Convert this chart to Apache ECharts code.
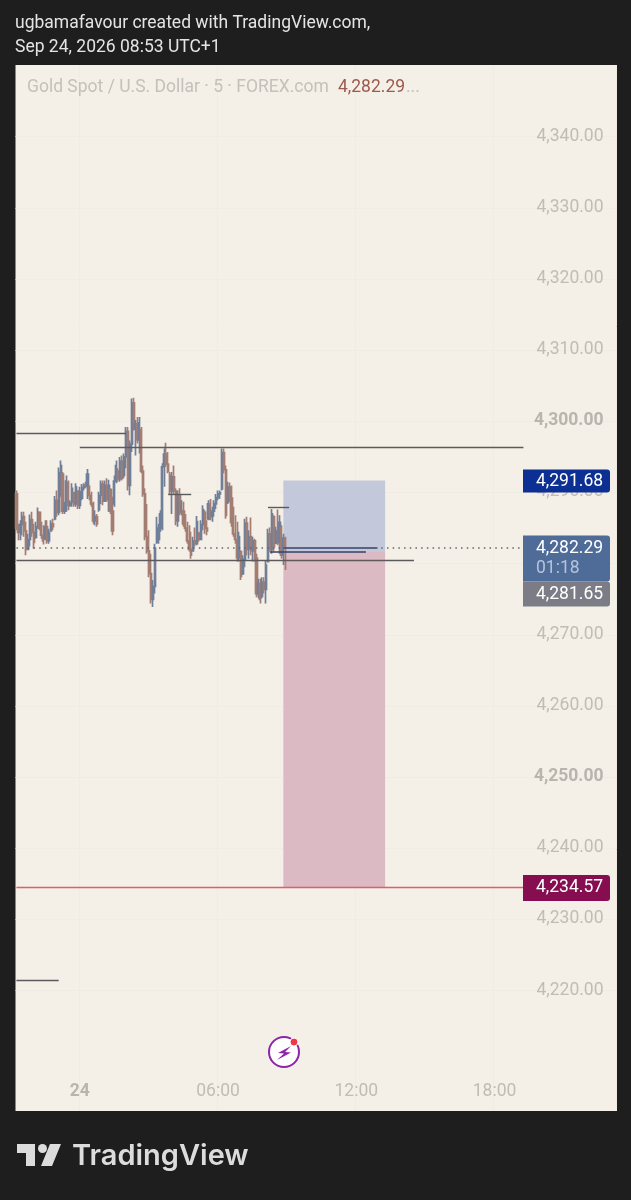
<!DOCTYPE html>
<html>
<head>
<meta charset="utf-8">
<style>
    html, body { margin: 0; padding: 0; background: #1e1e1e; }
    #chart { width: 631px; height: 1200px; }
</style>
<script src="https://cdn.jsdelivr.net/npm/echarts@6/dist/echarts.min.js"></script>
</head>
<body>
<div id="chart"></div>
<script>
// 5 minute bars, first one at 21:15 the day before
const opens = [
    4289.8,4285.0,4284.4,4285.5,4286.6,4284.6,4282.0,4283.4,4286.2,4284.4,
    4283.7,4285.2,4287.2,4285.0,4284.0,4283.5,4285.2,4283.2,4284.6,4285.6,
    4286.3,4288.9,4287.2,4292.8,4292.6,4287.4,4287.8,4291.4,4288.2,4288.6,
    4290.0,4288.4,4290.2,4288.2,4289.2,4290.7,4291.0,4290.9,4290.8,4289.6,
    4288.4,4286.0,4286.6,4287.6,4289.6,4291.2,4288.8,4291.0,4289.0,4290.4,
    4287.4,4288.4,4291.6,4293.0,4291.9,4294.4,4292.4,4295.0,4298.6,4291.0,
    4296.8,4302.6,4298.9,4299.6,4297.4,4298.8,4293.0,4289.8,4283.8,4281.8,
    4278.6,4275.0,4276.8,4283.0,4283.4,4285.0,4287.0,4293.6,4295.4,4294.0,
    4292.4,4290.2,4292.2,4290.2,4286.0,4289.6,4287.2,4287.4,4285.6,4285.0,
    4283.2,4282.0,4281.8,4283.2,4282.8,4284.3,4283.4,4285.5,4287.2,4285.0,
    4286.3,4288.4,4286.6,4287.4,4288.4,4289.3,4289.8,4290.5,4295.6,4293.2,
    4288.6,4290.8,4289.2,4285.8,4284.2,4283.4,4280.8,4281.7,4278.6,4280.6,
    4285.7,4282.0,4283.8,4281.8,4283.2,4280.8,4275.8,4277.2,4275.4,4277.4,
    4276.4,4280.3,4284.2,4282.0,4286.6,4282.9,4284.6,4283.0,4285.0,4281.2,
    4283.6,
]
const highs = [
    4290.3,4285.6,4286.1,4287.3,4287.3,4285.9,4284.2,4286.9,4287.3,4285.6,
    4285.9,4287.9,4287.3,4285.9,4285.4,4286.1,4286.1,4284.9,4286.1,4286.3,
    4289.5,4290.3,4293.5,4294.5,4292.9,4288.7,4292.4,4291.7,4288.9,4291.3,
    4290.1,4291.3,4290.3,4290.8,4291.2,4291.3,4291.5,4293.3,4291.0,4290.1,
    4288.7,4287.5,4287.0,4290.1,4291.7,4291.7,4291.7,4292.0,4291.8,4290.6,
    4289.4,4292.4,4294.5,4293.4,4295.0,4295.2,4295.5,4299.2,4299.2,4297.3,
    4303.2,4303.3,4300.2,4300.6,4300.6,4299.2,4293.8,4290.6,4288.4,4284.7,
    4281.4,4277.7,4282.8,4286.6,4285.6,4287.5,4294.1,4296.2,4297.0,4295.7,
    4292.9,4292.9,4293.8,4290.6,4290.3,4290.6,4288.9,4288.7,4287.0,4285.9,
    4285.4,4284.5,4283.8,4285.1,4286.7,4284.5,4286.1,4288.2,4287.5,4286.1,
    4288.9,4289.1,4288.0,4288.9,4289.8,4290.3,4290.3,4296.2,4296.2,4293.8,
    4291.5,4291.4,4291.0,4288.0,4286.8,4285.9,4284.5,4281.9,4281.2,4286.3,
    4286.6,4284.7,4286.5,4283.8,4283.5,4281.4,4277.9,4277.9,4278.1,4278.1,
    4280.5,4284.9,4285.1,4287.7,4286.8,4285.2,4287.6,4286.8,4285.4,4284.2,
    4283.8,
]
const lows = [
    4284.7,4283.3,4283.3,4284.0,4283.8,4281.2,4281.9,4282.4,4283.8,4282.1,
    4283.5,4284.9,4284.7,4283.5,4282.7,4283.3,4282.8,4282.8,4284.5,4284.7,
    4286.1,4286.6,4286.8,4289.4,4287.0,4287.0,4287.3,4287.5,4288.0,4288.0,
    4288.0,4288.0,4287.7,4287.7,4288.9,4290.3,4290.6,4289.1,4288.9,4288.0,
    4285.6,4285.4,4285.2,4287.3,4288.4,4288.2,4288.7,4288.7,4287.3,4287.0,
    4284.0,4288.0,4291.3,4291.5,4291.5,4291.7,4292.0,4293.4,4290.3,4289.6,
    4295.7,4298.7,4295.2,4296.9,4295.5,4292.7,4289.4,4283.3,4281.4,4278.1,
    4274.4,4273.9,4275.8,4282.8,4282.8,4284.5,4284.7,4290.8,4293.6,4292.7,
    4289.8,4287.0,4289.8,4285.4,4285.2,4286.8,4286.8,4285.2,4284.5,4282.8,
    4281.7,4280.7,4281.7,4282.4,4282.6,4283.1,4283.5,4284.7,4284.2,4284.0,
    4286.1,4286.1,4285.9,4286.6,4287.7,4288.9,4289.1,4290.3,4292.7,4286.3,
    4288.4,4288.7,4285.2,4283.8,4282.8,4280.3,4280.3,4277.7,4278.4,4279.5,
    4281.2,4280.7,4281.2,4280.3,4280.3,4275.3,4275.1,4274.4,4275.1,4275.8,
    4274.4,4280.3,4281.7,4281.4,4281.7,4282.8,4282.6,4281.4,4280.7,4279.8,
    4279.1,
]
const closes = [
    4285.0,4284.4,4285.5,4286.6,4284.6,4282.0,4283.4,4286.2,4284.4,4283.0,
    4285.2,4287.2,4285.0,4284.0,4283.2,4285.2,4283.2,4284.4,4285.6,4285.2,
    4288.9,4287.2,4292.8,4293.8,4287.4,4287.8,4291.6,4288.2,4288.6,4290.6,
    4288.4,4290.8,4288.2,4290.1,4290.7,4291.0,4290.9,4292.6,4289.6,4288.4,
    4286.0,4286.6,4285.6,4289.6,4291.2,4288.8,4291.0,4289.0,4291.0,4287.4,
    4284.6,4291.6,4293.8,4291.9,4294.4,4292.0,4295.0,4298.6,4291.0,4296.8,
    4302.6,4298.9,4299.6,4297.4,4299.8,4293.0,4289.8,4283.8,4281.8,4278.6,
    4275.0,4276.8,4282.2,4283.4,4285.0,4287.0,4293.6,4295.4,4294.0,4293.0,
    4290.2,4292.2,4290.2,4286.0,4289.6,4287.2,4287.4,4285.6,4285.0,4283.2,
    4282.0,4281.2,4283.2,4282.8,4285.9,4283.4,4285.5,4287.6,4285.0,4284.6,
    4288.4,4286.6,4287.4,4288.4,4289.3,4289.8,4290.0,4295.6,4293.2,4286.8,
    4290.8,4289.2,4285.8,4284.2,4283.4,4280.8,4283.8,4278.2,4280.6,4285.7,
    4282.0,4283.8,4281.8,4283.2,4280.8,4275.8,4277.2,4275.0,4277.4,4276.4,
    4279.8,4284.2,4282.0,4287.0,4282.4,4284.6,4283.0,4285.8,4281.2,4283.6,
    4282.29,
]

const priceTicks = [4340, 4330, 4320, 4310, 4300, 4290, 4280, 4270, 4260, 4250, 4240, 4230, 4220]
const boldPriceTicks = [4300, 4250]
const timeTickSlots = [33, 105, 177, 249]
const timeTickLabels = ['24', '06:00', '12:00', '18:00']

// drawn levels: bar slot where they start, where they end, and the price
const levelStarts = [0, 33, 0, 0, 79, 131, 132, 139]
const levelEnds = [57, 264, 207, 22, 91, 142, 182, 188]
const levelPrices = [4298.3, 4296.33, 4280.45, 4221.44, 4289.8, 4288.0, 4281.65, 4282.29]

const lastPrice = 4282.29
const targetPrice = 4291.68
const entryPrice = 4281.65
const stopPrice = 4234.57
const boxStart = 139
const boxEnd = 192

const slotCount = 313
const slots = []
for (let i = 0; i < slotCount; i++) {
    slots.push('bar' + i)
}

const chart = echarts.init(document.getElementById('chart'))

const darkLevel = { color: '#5c5a5c', width: 1.4, type: 'solid' }
const navyLevel = { color: '#35426e', width: 1.6, type: 'solid' }

function levelLines() {
    return levelPrices.map((price, i) => [
        { coord: [levelStarts[i], price], lineStyle: i > 5 ? navyLevel : darkLevel },
        { coord: [levelEnds[i], price] },
    ])
}

function money(v) {
    return v.toLocaleString('en-US', { minimumFractionDigits: 2, maximumFractionDigits: 2 })
}

chart.setOption({
    animation: false,
    backgroundColor: '#1e1e1e',
    grid: {
        show: true,
        left: 15.5,
        top: 65,
        width: 601,
        height: 1046,
        backgroundColor: '#f4efe7',
        borderWidth: 0,
    },
    xAxis: {
        type: 'category',
        data: slots,
        boundaryGap: true,
        axisLine: { show: false },
        axisTick: { show: false },
        splitLine: {
            show: true,
            interval: (i) => timeTickSlots.includes(i),
            lineStyle: { color: '#f0ebe3' },
        },
        axisLabel: {
            inside: true,
            margin: 10,
            interval: (i) => timeTickSlots.includes(i),
            formatter: (v, i) => {
                const t = timeTickLabels[timeTickSlots.indexOf(i)]
                return t === '24' ? '{b|' + t + '}' : t
            },
            color: '#c0bcb6',
            fontFamily: 'Roboto',
            fontSize: 17.5,
            rich: { b: { fontFamily: 'Roboto', fontSize: 17.5, fontWeight: 'bold', color: '#b8b4ae' } },
        },
    },
    yAxis: {
        type: 'value',
        position: 'right',
        min: 4203.1,
        max: 4350.07,
        axisLine: { show: false },
        axisTick: { show: false, customValues: priceTicks },
        splitLine: { show: true, lineStyle: { color: '#f0ebe3' } },
        axisLabel: {
            inside: true,
            margin: 13,
            customValues: priceTicks,
            padding: [0, 0, 1, 0],
            formatter: (v) => (boldPriceTicks.includes(v) ? '{b|' + money(v) + '}' : money(v)),
            color: '#c0bcb6',
            fontFamily: 'Roboto',
            fontSize: 17.5,
            rich: { b: { fontFamily: 'Roboto', fontSize: 17.5, fontWeight: 'bold', color: '#b8b4ae' } },
        },
    },
    series: [
        {
            type: 'candlestick',
            barWidth: 1.6,
            itemStyle: {
                color: '#6f7f99',
                color0: '#a37d72',
                borderColor: '#6f7f99',
                borderColor0: '#a37d72',
                borderWidth: 1.7,
            },
            data: opens.map((o, i) => [o, closes[i], lows[i], highs[i]]),
            markArea: {
                silent: true,
                data: [
                    [
                        { coord: [boxStart, targetPrice], itemStyle: { color: '#c3c8da' } },
                        { coord: [boxEnd, entryPrice] },
                    ],
                    [
                        { coord: [boxStart, entryPrice], itemStyle: { color: '#dcbac3' } },
                        { coord: [boxEnd, stopPrice] },
                    ],
                ],
            },
            markLine: {
                silent: true,
                symbol: 'none',
                label: { show: false },
                lineStyle: { type: 'solid' },
                data: levelLines().concat([
                    [
                        { coord: [0, stopPrice], lineStyle: { color: '#dc5f6c', width: 1.4, type: 'solid' } },
                        { coord: [264, stopPrice] },
                    ],
                    [
                        { coord: [0, lastPrice], lineStyle: { color: '#5f6673', width: 1.5, type: [1.5, 4.2] } },
                        { coord: [264, lastPrice] },
                    ],
                ]),
            },
        },
    ],
})

// price tags and the text around the pane
function priceY(v) {
    return chart.convertToPixel({ yAxisIndex: 0 }, v)
}

function tag(y, h, fill) {
    return { type: 'rect', shape: { x: 523, y: y, width: 87, height: h, r: [0, 3, 3, 0] }, style: { fill: fill }, z: 20 }
}

function tagText(text, y, fill) {
    return {
        type: 'text',
        z: 21,
        style: { text: text, x: 536, y: y, fill: fill || '#ffffff', font: '17.5px Roboto', verticalAlign: 'middle' },
    }
}

const lastY = priceY(lastPrice)

chart.setOption({
    graphic: [
        { type: 'text', style: { text: 'ugbamafavour created with TradingView.com,', x: 15, y: 24, fill: '#e4e4e4', font: '17.5px Roboto', verticalAlign: 'middle' } },
        { type: 'text', style: { text: 'Sep 24, 2026 08:53 UTC+1', x: 15, y: 48, fill: '#e4e4e4', font: '17.5px Roboto', verticalAlign: 'middle' } },
        { type: 'text', style: { text: 'Gold Spot / U.S. Dollar · 5 · FOREX.com', x: 27, y: 88, fill: '#c4c0ba', font: '17.5px Roboto', verticalAlign: 'middle' } },
        { type: 'text', style: { text: '4,282.29', x: 338, y: 88, fill: '#9c5a4c', font: '17.5px Roboto', verticalAlign: 'middle' } },
        { type: 'text', style: { text: '...', x: 406, y: 88, fill: '#c4c0ba', font: '17.5px Roboto', verticalAlign: 'middle' } },

        tag(priceY(targetPrice) - 11, 23, '#0c2f94'),
        tagText(money(targetPrice), priceY(targetPrice) + 1),
        tag(lastY - 12, 46, '#4f6c98'),
        tagText(money(lastPrice), lastY + 1),
        tagText('01:18', lastY + 21, '#b5c4dc'),
        tag(lastY + 34, 25, '#7c7c86'),
        tagText(money(entryPrice), lastY + 47),
        tag(priceY(stopPrice) - 12, 26, '#860e50'),
        tagText(money(stopPrice), priceY(stopPrice) + 1),

        // alert badge
        { type: 'circle', shape: { cx: 284, cy: 1052, r: 15 }, style: { fill: '#ffffff', stroke: '#8e24aa', lineWidth: 2 }, z: 20 },
        { type: 'polygon', shape: { points: [[291, 1046], [278, 1053], [284, 1053.5], [277, 1060], [291, 1052.5], [285, 1052]] }, style: { fill: '#8e24aa' }, z: 21 },
        { type: 'circle', shape: { cx: 294, cy: 1042, r: 4 }, style: { fill: '#f23645', stroke: '#ffffff', lineWidth: 1 }, z: 21 },

        // TradingView logo
        { type: 'polygon', shape: { points: [[17, 1144], [35, 1144], [35, 1166], [26, 1166], [26, 1153], [17, 1153]] }, style: { fill: '#dcdcdc' } },
        { type: 'circle', shape: { cx: 42.5, cy: 1148.5, r: 4.5 }, style: { fill: '#dcdcdc' } },
        { type: 'polygon', shape: { points: [[50, 1144], [61, 1144], [52, 1166], [41, 1166]] }, style: { fill: '#dcdcdc' } },
        { type: 'text', style: { text: 'TradingView', x: 72, y: 1156, fill: '#dcdcdc', font: '600 29px Inter', verticalAlign: 'middle' } },
    ],
})
</script>
</body>
</html>
